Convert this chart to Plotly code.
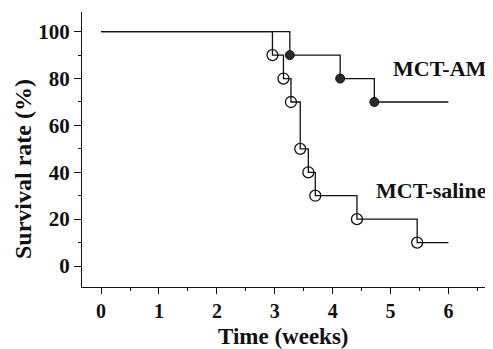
import plotly.graph_objects as go

# Kaplan-Meier step data (time in weeks, survival %)
saline_t = [0, 2.96, 3.15, 3.28, 3.44, 3.58, 3.70, 4.42, 5.46, 6.0]
saline_s = [100, 90, 80, 70, 50, 40, 30, 20, 10, 10]
am_t = [0, 3.26, 4.13, 4.72, 6.0]
am_s = [100, 90, 80, 70, 70]

x_ticks = [0, 1, 2, 3, 4, 5, 6]
y_ticks = [0, 20, 40, 60, 80, 100]

FONT = "Liberation Serif"
ink = "#111111"

fig = go.Figure()
fig.add_trace(go.Scatter(x=saline_t, y=saline_s, mode="lines", line_shape="hv",
                         line=dict(color=ink, width=1.3), showlegend=False))
fig.add_trace(go.Scatter(x=am_t, y=am_s, mode="lines", line_shape="hv",
                         line=dict(color=ink, width=1.3), showlegend=False))
fig.add_trace(go.Scatter(x=saline_t[1:-1], y=saline_s[1:-1], mode="markers",
                         marker=dict(symbol="circle-open", size=11, color=ink,
                                     line=dict(width=1.3, color=ink)),
                         showlegend=False))
fig.add_trace(go.Scatter(x=am_t[1:-1], y=am_s[1:-1], mode="markers",
                         marker=dict(symbol="circle", size=9, color="#2a2a2a",
                                     line=dict(width=1, color=ink)),
                         showlegend=False))

fig.add_annotation(x=5.855, y=84.1, text="MCT-AM", showarrow=False, xanchor="center",
                   yanchor="middle",
                   font=dict(family=FONT, size=22, color=ink, weight="bold"))
fig.add_annotation(x=5.708, y=32.4, text="MCT-saline", showarrow=False, xanchor="center",
                   yanchor="middle",
                   font=dict(family=FONT, size=22, color=ink, weight="bold"))
# axis titles
fig.add_annotation(x=0.490, y=-0.1782, xref="paper", yref="paper", text="Time (weeks)",
                   showarrow=False, xanchor="center", yanchor="middle",
                   font=dict(family=FONT, size=23, color=ink, weight="bold"))
fig.add_annotation(x=-0.1436, y=0.429, xref="paper", yref="paper", text="Survival rate (%)",
                   showarrow=False, xanchor="center", yanchor="middle", textangle=-90,
                   font=dict(family=FONT, size=24, color=ink, weight="bold"))

# page body has an 8px margin, so the figure is sized to fill the rest of the window
fig.update_layout(
    width=485, height=341,
    margin=dict(l=74, r=0, t=4, b=62),
    paper_bgcolor="white", plot_bgcolor="white",
    font=dict(family=FONT, size=21, color=ink, weight="bold"),
    xaxis=dict(range=[-0.33, 6.77], tickvals=x_ticks, ticks="outside", ticklen=6,
               tickwidth=1.2, tickcolor=ink, showline=True, linecolor=ink, linewidth=1.3,
               showgrid=False, zeroline=False, automargin=False,
               tickfont=dict(family=FONT, size=20, color=ink, weight="bold"),
               minor=dict(dtick=0.5, tick0=0, ticks="outside", ticklen=3, tickcolor=ink, showgrid=False)),
    yaxis=dict(range=[-8.96, 108.4], tickvals=y_ticks, ticks="outside", ticklen=7,
               tickwidth=1.2, tickcolor=ink, showline=True, linecolor=ink, linewidth=1.3,
               showgrid=False, zeroline=False, automargin=False,
               minor=dict(dtick=10, tick0=0, ticks="outside", ticklen=3, tickcolor=ink, showgrid=False)),
)

fig.write_html("out.html")
